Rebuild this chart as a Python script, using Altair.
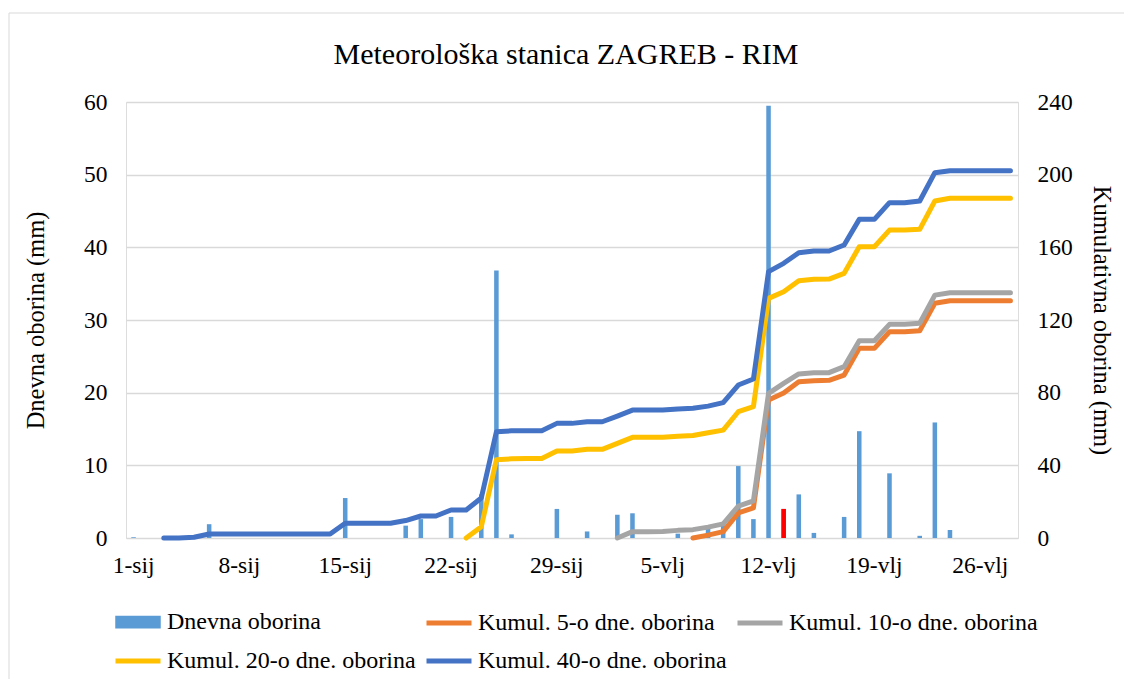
import altair as alt
import pandas as pd

# ---- categories (days, Jan 1 - Feb 28) ----
days = [f"{d}-sij" for d in range(1, 32)] + [f"{d}-vlj" for d in range(1, 29)]
axis_labels = ["1-sij", "8-sij", "15-sij", "22-sij", "29-sij", "5-vlj", "12-vlj", "19-vlj", "26-vlj"]
highlight_day = "13-vlj"

# ---- daily precipitation (mm) ----
daily = [
    # January 1..31
    0.1, 0, 0, 0, 0.3, 1.9, 0, 0, 0, 0,
    0, 0, 0, 0, 5.5, 0, 0, 0, 1.7, 2.6,
    0, 2.9, 0, 6.0, 36.8, 0.5, 0, 0, 4.0, 0,
    0.9,
    # February 1..28
    0, 3.2, 3.4, 0, 0, 0.6, 0, 1.6, 1.9, 9.9,
    2.6, 59.5, 4.0, 6.0, 0.7, 0, 2.9, 14.7, 0, 8.9,
    0, 0.3, 15.9, 1.1, 0, 0, 0, 0,
]

# ---- cumulative series (mm), None before the series starts ----
kum40 = [None] * 2 + [
    0, 0, 0.4, 2.2, 2.2, 2.2, 2.2, 2.2, 2.2, 2.2, 2.2, 2.2,
    8.1, 8.1, 8.1, 8.1, 9.6, 12.1, 12.1, 15.4, 15.4, 22.0, 58.5, 59.0, 59.0, 59.0, 63.1, 63.1, 64.0,
    64.0, 67.1, 70.4, 70.4, 70.4, 71.0, 71.4, 72.6, 74.5, 84.2, 87.5, 146.6, 151.2, 157.0,
    158.0, 158.0, 161.3, 175.4, 175.4, 184.6, 184.6, 185.5, 201.1, 202.2, 202.2, 202.2, 202.2, 202.2,
]
kum20 = [None] * 22 + [
    0, 6.2, 43.1, 43.6, 43.8, 43.8, 47.9, 47.9, 48.8,
    48.8, 52.1, 55.4, 55.4, 55.4, 56.0, 56.4, 57.9, 59.4, 69.5, 72.3, 131.9, 135.6, 141.6,
    142.4, 142.5, 145.7, 160.3, 160.3, 169.5, 169.5, 169.9, 185.5, 187.0, 187.0, 187.0, 187.0, 187.0,
]
kum10 = [None] * 32 + [
    0, 3.5, 3.5, 3.6, 4.2, 4.6, 6.0, 7.8, 17.6, 20.4, 79.6, 85.1, 90.3,
    91.0, 91.0, 94.3, 108.6, 108.6, 117.6, 117.6, 118.2, 133.7, 135.0, 135.0, 135.0, 135.0, 135.0,
]
kum5 = [None] * 37 + [
    0, 1.6, 3.5, 13.8, 16.6, 76.0, 79.8, 86.0,
    86.6, 86.8, 89.7, 104.4, 104.4, 113.5, 113.5, 114.1, 129.2, 130.6, 130.6, 130.6, 130.6, 130.6,
]

series_names = [
    "Dnevna oborina",
    "Kumul. 5-o dne. oborina",
    "Kumul. 10-o dne. oborina",
    "Kumul. 20-o dne. oborina",
    "Kumul. 40-o dne. oborina",
]
series_colors = ["#5B9BD5", "#ED7D31", "#A5A5A5", "#FFC000", "#4472C4"]

FONT = "Liberation Serif"

# ---- tables ----
bars_df = pd.DataFrame({"dan": days, "vrijednost": daily, "serija": series_names[0]})
rows = []
for name, vals in zip(series_names[1:], [kum5, kum10, kum20, kum40]):
    for d, v in zip(days, vals):
        if v is not None:
            rows.append({"dan": d, "vrijednost": v, "serija": name})
lines_df = pd.DataFrame(rows)

x_enc = alt.X(
    "dan:O",
    sort=days,
    scale=alt.Scale(paddingInner=0.7, paddingOuter=0.35),
    axis=alt.Axis(
        values=axis_labels, labelAngle=0, ticks=False, domain=False, grid=False,
        title=None, labelFont=FONT, labelFontSize=23.5, labelColor="#000000", labelPadding=15,
    ),
)

color_enc = alt.Color(
    "serija:N",
    scale=alt.Scale(domain=series_names, range=series_colors),
    legend=alt.Legend(
        title=None, orient="none", legendX=-13, legendY=495, columns=3,
        direction="horizontal",
        symbolType={"expr": "datum.value === 'Dnevna oborina' ? 'M-0.9,-0.17H0.9V0.17H-0.9Z' : 'stroke'"},
        symbolSize=2025, symbolStrokeWidth=5,
        labelFont=FONT, labelFontSize=24, labelColor="#000000", labelLimit=400,
        columnPadding=0, rowPadding=-5, labelOffset=4,
    ),
)

y_left = alt.Y(
    "vrijednost:Q",
    scale=alt.Scale(domain=[0, 60], nice=False),
    axis=alt.Axis(
        values=[0, 10, 20, 30, 40, 50, 60], title="Dnevna oborina (mm)", grid=True,
        gridColor="#d9d9d9", gridWidth=1.3, domain=False, ticks=False,
        labelFont=FONT, labelFontSize=23.5, labelColor="#000000", labelPadding=19,
        titleFont=FONT, titleFontSize=24.5, titleFontWeight="normal", titleColor="#000000",
        titlePadding=35,
    ),
)

bars = alt.Chart(bars_df).mark_bar().encode(x=x_enc, y=y_left, color=color_enc)
red_bar = (
    alt.Chart(bars_df)
    .transform_filter(alt.datum.dan == highlight_day)
    .mark_bar(color="#FF0000")
    .encode(x=x_enc, y=y_left)
)

lines = alt.Chart(lines_df).mark_line(strokeWidth=5, strokeJoin="round", strokeCap="round").encode(
    x=x_enc,
    y=alt.Y(
        "vrijednost:Q",
        scale=alt.Scale(domain=[0, 240], nice=False),
        axis=alt.Axis(
            orient="right", values=[0, 40, 80, 120, 160, 200, 240], title="Kumulativna oborina (mm)",
            grid=False, domain=False, ticks=False,
            labelFont=FONT, labelFontSize=23.5, labelColor="#000000", labelPadding=19,
            titleFont=FONT, titleFontSize=24.5, titleFontWeight="normal", titleColor="#000000",
            titlePadding=16,
        ),
    ),
    color=color_enc,
    order=alt.Order("serija:N"),
)

# light frame round the whole chart area (decoration only)
border = alt.Chart(pd.DataFrame({"k": [0]})).mark_rect(
    fill="transparent", stroke="#d9d9d9", strokeWidth=1
).encode(x=alt.value(-117), x2=alt.value(1012), y=alt.value(-89), y2=alt.value(592))

left = alt.layer(bars, red_bar)
chart = (
    alt.layer(border, left, lines)
    .resolve_scale(y="independent")
    .properties(
        width=892, height=436,
        padding={"left": 118, "top": 94, "right": 106, "bottom": 141},
        autosize=alt.AutoSizeParams(type="none"),
        title=alt.Title(
            "Meteorološka stanica ZAGREB - RIM", font=FONT, fontSize=30, fontWeight="normal",
            color="#000000", anchor="middle", offset=0, dy=57, dx=-6, frame="group",
        ),
    )
    .configure_view(stroke=None)
    .configure_axis(labelFont=FONT, titleFont=FONT)
    .configure_legend(labelFont=FONT)
    .configure_title(font=FONT)
    .configure(font=FONT)
)

chart.save("out.html", embed_options={"renderer": "svg", "actions": False})
